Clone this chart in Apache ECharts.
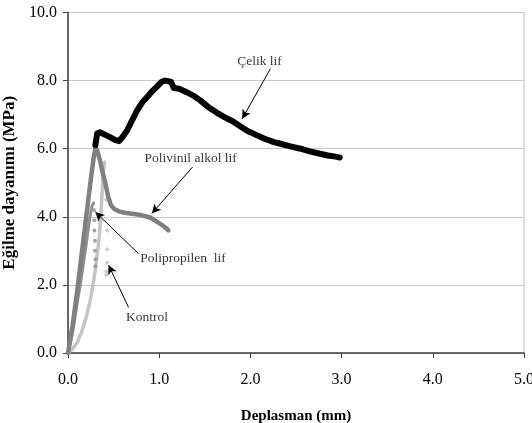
<!DOCTYPE html>
<html>
<head>
<meta charset="utf-8">
<script src="https://cdn.jsdelivr.net/npm/echarts@6/dist/echarts.min.js"></script>
<style>html,body{margin:0;padding:0;background:#fff}#c{width:532px;height:423px}</style>
</head>
<body>
<div id="c"></div>
<script>
// ---- data ----
var xTicks = [0, 1, 2, 3, 4, 5];
var yTicks = [0, 2, 4, 6, 8, 10];
var celikRise = [[0,0],[0.03,0.4],[0.08,1.5],[0.15,3.0],[0.22,4.6],[0.27,5.7],[0.30,6.1]];
var celik = [[0.30,6.1],[0.32,6.45],[0.35,6.48],[0.40,6.42],[0.46,6.34],[0.52,6.25],[0.56,6.22],[0.60,6.35],[0.65,6.54],[0.70,6.82],[0.76,7.13],[0.82,7.38],[0.87,7.52],[0.92,7.68],[0.97,7.81],[1.02,7.95],[1.06,8.0],[1.10,7.98],[1.13,7.96],[1.16,7.78],[1.22,7.76],[1.30,7.66],[1.38,7.55],[1.45,7.42],[1.54,7.22],[1.63,7.06],[1.72,6.92],[1.81,6.80],[1.90,6.64],[1.97,6.52],[2.05,6.42],[2.15,6.30],[2.25,6.20],[2.35,6.13],[2.45,6.06],[2.55,6.0],[2.65,5.92],[2.75,5.86],[2.85,5.80],[2.95,5.76],[2.98,5.74]];
var pva = [[0,0],[0.05,0.8],[0.10,1.8],[0.15,2.9],[0.20,4.0],[0.25,5.1],[0.28,5.7],[0.30,6.02],[0.32,5.95],[0.35,5.66],[0.38,5.3],[0.41,4.98],[0.44,4.6],[0.47,4.35],[0.51,4.22],[0.56,4.16],[0.62,4.12],[0.70,4.09],[0.80,4.05],[0.90,3.98],[0.96,3.88],[1.02,3.78],[1.07,3.68],[1.10,3.6]];
var pp = [[0,0],[0.05,0.6],[0.10,1.45],[0.14,2.1],[0.17,2.65],[0.20,3.2],[0.23,3.8],[0.26,4.3],[0.28,4.4]];
var ppDrop = [[0.285,4.2],[0.29,3.9],[0.29,3.6],[0.295,3.3],[0.295,3.0],[0.30,2.75],[0.30,2.55]];
var kontrol = [[0,0],[0.05,0.12],[0.10,0.3],[0.15,0.62],[0.20,1.05],[0.24,1.5],[0.27,1.95],[0.30,2.45],[0.32,2.9],[0.34,3.35],[0.36,4.0],[0.37,4.5],[0.38,5.0],[0.39,5.4],[0.40,5.6]];
var kontrolDrop = [[0.41,5.0],[0.42,4.5],[0.43,3.6],[0.43,3.05],[0.43,2.65],[0.42,2.4],[0.42,2.3]];
var labels = ['Çelik lif', 'Polivinil alkol lif', 'Polipropilen  lif', 'Kontrol'];
var labelPos = [[2.10,8.56],[1.345,5.72],[1.26,2.79],[0.865,1.05]];
var arrowFrom = [[2.22,8.35],[1.365,5.46],[0.773,2.92],[0.664,1.34]];
var arrowTo = [[1.91,6.88],[0.92,4.10],[0.30,4.14],[0.445,2.58]];

var font = '"Liberation Serif","Times New Roman",serif';
var chart = echarts.init(document.getElementById('c'));
var lineS = function(name, data, color, width, z){
  return {name:name, type:'line', data:data, showSymbol:false, symbol:'none', z:z,
    lineStyle:{color:color, width:width, cap:'round', join:'round'}, silent:true};
};
var dotS = function(data, color, z){
  return {type:'scatter', data:data, symbol:'circle', symbolSize:4, z:z, itemStyle:{color:color}, silent:true};
};
chart.setOption({
  animation:false,
  grid:{left:68, right:8, top:12.5, bottom:70, outerBoundsMode:'none', containLabel:false,
    show:true, borderColor:'#c0c0c0', borderWidth:1},
  xAxis:{type:'value', min:0, max:5, interval:1,
    name:'Deplasman (mm)', nameLocation:'middle', nameGap:56,
    nameTextStyle:{fontFamily:font, fontWeight:'bold', fontSize:15, color:'#000'},
    axisLine:{show:true, lineStyle:{color:'#404040', width:1.5}},
    axisTick:{show:true, inside:false, length:5, lineStyle:{color:'#404040'}},
    axisLabel:{fontFamily:font, fontSize:16, color:'#000', margin:19, formatter:function(v){return v.toFixed(1);}},
    splitLine:{show:false}},
  yAxis:{type:'value', min:0, max:10, interval:2,
    name:'Eğilme dayanımı (MPa)', nameLocation:'middle', nameGap:48,
    nameTextStyle:{fontFamily:font, fontWeight:'bold', fontSize:17, color:'#000'},
    axisLine:{show:true, lineStyle:{color:'#404040', width:1.5}},
    axisTick:{show:true, inside:false, length:5, lineStyle:{color:'#404040'}},
    axisLabel:{fontFamily:font, fontSize:16, color:'#000', margin:11, formatter:function(v){return v.toFixed(1);}},
    splitLine:{show:true, lineStyle:{color:'#c8c8c8', width:1}}},
  series:[
    lineS('Kontrol', kontrol, '#c4c4c4', 3.5, 2),
    dotS(kontrolDrop, '#c4c4c4', 2),
    lineS('Polipropilen lif', pp, '#8e8e8e', 3, 3),
    dotS(ppDrop, '#8e8e8e', 3),
    lineS('Çelik lif rise', celikRise, '#000', 1.5, 4),
    lineS('Polivinil alkol lif', pva, '#7f7f7f', 4.5, 5),
    lineS('Çelik lif', celik, '#000', 6, 6),
    {type:'scatter', symbolSize:0, z:10, silent:true,
      data: labels.map(function(t,i){return {name:t, value:labelPos[i]};}),
      label:{show:true, position:'inside', formatter:'{b}', fontFamily:font, fontSize:13.5, color:'#000'},
      markLine:{silent:true, symbol:['none','arrow'], symbolSize:[7,9], animation:false,
        lineStyle:{color:'#000', width:1, type:'solid'}, label:{show:false},
        data: arrowFrom.map(function(a,i){return [{coord:a},{coord:arrowTo[i]}];})}
    }
  ]
});
</script>
</body>
</html>
